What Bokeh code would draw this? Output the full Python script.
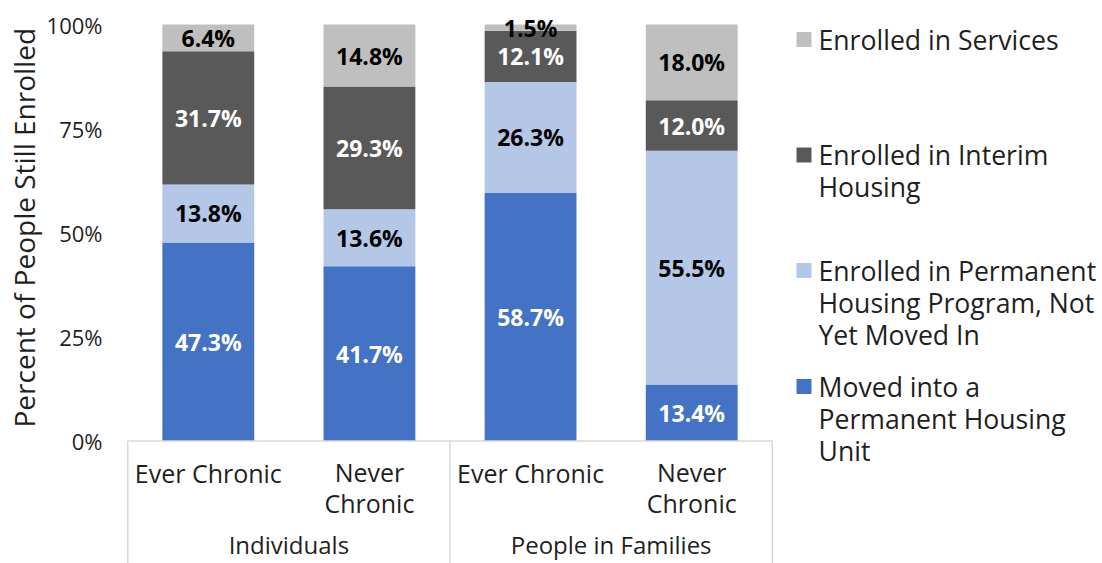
from bokeh.plotting import figure
from bokeh.layouts import row
from bokeh.models import (FactorRange, Range1d, FixedTicker, ColumnDataSource, Title)
from bokeh.core.properties import value
from bokeh.embed import file_html
from bokeh.resources import INLINE

# ---------------- data ----------------
groups = ["Individuals", "Individuals", "People in Families", "People in Families"]
subcats = ["Ever Chronic", "Never Chronic", "Ever Chronic", "Never Chronic"]
sub_labels = ["Ever Chronic", "Never\nChronic", "Ever Chronic", "Never\nChronic"]
group_names = ["Individuals", "People in Families"]

series_keys = ["moved_in", "ph_program", "interim", "services"]
legend_labels = ["Moved into a\nPermanent Housing\nUnit",
                 "Enrolled in Permanent\nHousing Program, Not\nYet Moved In",
                 "Enrolled in Interim\nHousing",
                 "Enrolled in Services"]
moved_in = [47.3, 41.7, 58.7, 13.4]
ph_program = [13.8, 13.6, 26.3, 55.5]
interim = [31.7, 29.3, 12.1, 12.0]
services = [6.4, 14.8, 1.5, 18.0]

colors = ["#4472C4", "#B4C7E7", "#595959", "#BFBFBF"]
label_colors = ["#FFFFFF", "#000000", "#FFFFFF", "#000000"]
y_ticks = [0, 25, 50, 75, 100]
y_title = "Percent of People Still Enrolled"

FONT = "Open Sans"
TXT = "#1F1F1F"
AXIS_GRAY = "#D9D9D9"
LH = 0.918  # Bokeh line height factor (x font ascent+descent)

# ---------------- derived (100% stacked) ----------------
factors = list(zip(groups, subcats))
values = dict(zip(series_keys, [moved_in, ph_program, interim, services]))
totals = [sum(v[i] for v in values.values()) for i in range(len(factors))]
data = {"x": factors}
for k in series_keys:
    data[k] = [v / t * 100 for v, t in zip(values[k], totals)]
src = ColumnDataSource(data)

lx, ly, lt, lc = [], [], [], []
cum = [0.0] * len(factors)
for k, col in zip(series_keys, label_colors):
    for i, f in enumerate(factors):
        h = data[k][i]
        lx.append(f)
        ly.append(cum[i] + h / 2)
        lt.append(f"{values[k][i]:.1f}%")
        lc.append(col)
        cum[i] += h
lab_src = ColumnDataSource(dict(x=lx, y=ly, text=lt, color=lc))

# ---------------- main figure ----------------
W, H = 1102, 563
main_w = 775
px_per_pct = 4.165
y_zero_px = 440.5          # pixel row of 0% inside the figure
y_top = y_zero_px / px_per_pct
y_bot = -(H - y_zero_px) / px_per_pct


def px2v(py):
    return (y_zero_px - py) / px_per_pct


p = figure(width=main_w, height=H, output_backend="svg", toolbar_location=None,
           x_range=FactorRange(*factors, group_padding=0, factor_padding=0,
                               range_padding=0.02, range_padding_units="absolute"),
           y_range=Range1d(y_bot, y_top), x_axis_location=None,
           min_border_left=124, min_border_right=0, min_border_top=0,
           min_border_bottom=0, title=None)
p.outline_line_color = None
p.xgrid.visible = False
p.ygrid.visible = False

renderers = p.vbar_stack(series_keys, x="x", width=0.57, source=src,
                         color=colors, line_color=None)

p.text(x="x", y="y", text="text", source=lab_src, text_color="color",
       text_font=value(FONT), text_font_style="bold", text_font_size="23px",
       text_align="center", text_baseline="middle")

# category axis box
edges = [(groups[0], subcats[0], -0.5), (groups[2], subcats[2], -0.5), (groups[3], subcats[3], 0.5)]
p.segment(x0=edges, y0=[0, 0, 0], x1=edges, y1=[y_bot] * 3,
          line_color=AXIS_GRAY, line_width=1.5)
p.segment(x0=[edges[0]], y0=[0], x1=[edges[2]], y1=[0], line_color=AXIS_GRAY, line_width=1.5)

cat_y = [px2v(472 + (s.count("\n")) * 15) for s in sub_labels]
cat_src = ColumnDataSource(dict(x=factors, y=cat_y, text=sub_labels))
p.text(x="x", y="y", text="text", source=cat_src, text_color=TXT,
       text_font=value(FONT), text_font_size="25px", text_align="center",
       text_baseline="middle", text_line_height=LH)
grp_src = ColumnDataSource(dict(x=group_names, y=[px2v(544)] * 2, text=group_names))
p.text(x="x", y="y", text="text", source=grp_src, text_color=TXT,
       text_font=value(FONT), text_font_size="24px", text_align="center",
       text_baseline="middle")

# y axis
ax = p.yaxis[0]
ax.ticker = FixedTicker(ticks=y_ticks)
ax.major_label_overrides = {t: f"{t}%" for t in y_ticks}
ax.axis_line_color = None
ax.major_tick_line_color = None
ax.minor_tick_line_color = None
ax.major_tick_out = 0
ax.major_tick_in = 0
ax.major_label_standoff = 22
ax.major_label_text_font = FONT
ax.major_label_text_font_size = "22px"
ax.major_label_text_color = TXT

p.add_layout(Title(text=y_title, align="left", offset=136, text_font=FONT,
                   text_font_size="28px", text_font_style="normal",
                   text_color=TXT, standoff=2), "left")

# ---------------- legend panel ----------------
leg_w = W - main_w
lg = figure(width=leg_w, height=H, output_backend="svg", toolbar_location=None,
            x_range=Range1d(0, leg_w), y_range=Range1d(H, 0),
            x_axis_location=None, y_axis_location=None, title=None,
            min_border_left=0, min_border_right=0, min_border_top=0, min_border_bottom=0)
lg.outline_line_color = None
lg.xgrid.visible = False
lg.ygrid.visible = False

leg_order = [3, 2, 1, 0]                 # top-to-bottom as in the reference
leg_first = [39, 154.5, 270, 386]        # pixel row of each entry's first line
leg_text = [legend_labels[i] for i in leg_order]
leg_src = ColumnDataSource(dict(
    x=[28.5] * 4, y=leg_first, tx=[43] * 4,
    ty=[y + t.count("\n") * 32.5 / 2 for y, t in zip(leg_first, leg_text)],
    color=[colors[i] for i in leg_order], text=leg_text))
lg.rect(x="x", y="y", width=15, height=15, width_units="screen", height_units="screen",
        source=leg_src, fill_color="color", line_color=None)
lg.text(x="tx", y="ty", text="text", source=leg_src, text_color=TXT,
        text_font=value(FONT), text_font_size="26.6px", text_align="left",
        text_baseline="middle", text_line_height=LH * 26 / 26.6)

layout = row(p, lg, spacing=0)
open("out.html", "w").write(file_html(layout, INLINE))
